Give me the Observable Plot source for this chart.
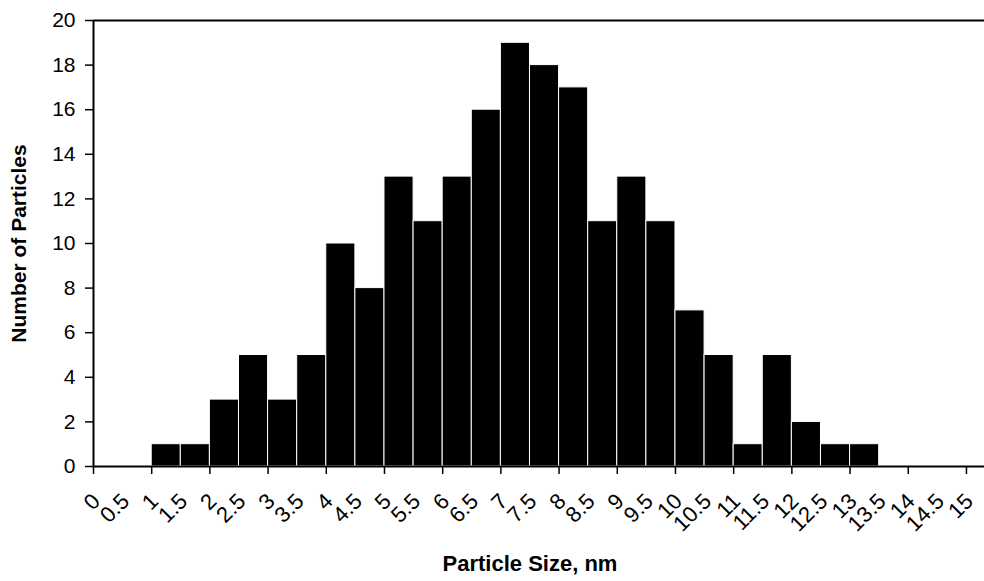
<!DOCTYPE html>
<html><head><meta charset="utf-8">
<script src="https://cdn.jsdelivr.net/npm/d3@7"></script>
<script src="https://cdn.jsdelivr.net/npm/@observablehq/plot@0.6"></script>
<style>body{margin:0;background:#fff} svg{font-family:"Liberation Sans",Arial,sans-serif}</style>
</head><body><div id="chart"></div>
<script>
const binStart = [1,1.5,2,2.5,3,3.5,4,4.5,5,5.5,6,6.5,7,7.5,8,8.5,9,9.5,10,10.5,11,11.5,12,12.5,13];
const counts   = [1,1,3,5,3,5,10,8,13,11,13,16,19,18,17,11,13,11,7,5,1,5,2,1,1];
const binWidth = 0.5;
const yTicks = [0,2,4,6,8,10,12,14,16,18,20];
const xLabelTicks = [0,0.5,1,1.5,2,2.5,3,3.5,4,4.5,5,5.5,6,6.5,7,7.5,8,8.5,9,9.5,10,10.5,11,11.5,12,12.5,13,13.5,14,14.5,15];
const xMarkTicks = [0,1,2,3,4,5,6,7,8,9,10,11,12,13,14,15];
const xTitle = "Particle Size, nm";
const yTitle = "Number of Particles";

const data = binStart.map((s, i) => ({x1: s, x2: s + binWidth, y: counts[i]}));
const xMid = (xMarkTicks[0] + xMarkTicks[xMarkTicks.length - 1]) / 2;

const chart = Plot.plot({
  width: 984, height: 581,
  marginLeft: 93, marginRight: 0, marginTop: 20, marginBottom: 115,
  x: {domain: [0, 15.31]},
  y: {domain: [0, 20]},
  style: {fontFamily: '"Liberation Sans", Arial, sans-serif', fontSize: "20px", color: "#000", background: "#fff"},
  marks: [
    Plot.rectY(data, {x1: "x1", x2: "x2", y: "y", fill: "#000", stroke: "#fff", strokeWidth: 1}),
    Plot.ruleY([0], {stroke: "#000", strokeWidth: 2}),
    Plot.ruleY([20], {stroke: "#000", strokeWidth: 2}),
    Plot.ruleX([0], {stroke: "#000", strokeWidth: 2}),
    Plot.axisY({ticks: yTicks, tickSize: 8, tickPadding: 10, tickFormat: d => String(d), label: null, strokeWidth: 1.5, fontSize: 21}),
    Plot.axisX({ticks: xMarkTicks, tickSize: 8, tickFormat: () => "", label: null, strokeWidth: 1.5}),
    Plot.axisX({ticks: xLabelTicks, tickSize: 0, tickPadding: 31, tickRotate: -45, tickFormat: d => String(d), label: null, fontSize: 22, dx: 3}),
    Plot.text([yTitle], {frameAnchor: "left", dx: -74, rotate: -90, textAnchor: "middle", fontWeight: "bold", fontSize: 21}),
    Plot.text([xTitle], {x: [xMid], frameAnchor: "bottom", dy: 104, textAnchor: "middle", fontWeight: "bold", fontSize: 22})
  ]
});
document.getElementById("chart").append(chart);
</script>
</body></html>
